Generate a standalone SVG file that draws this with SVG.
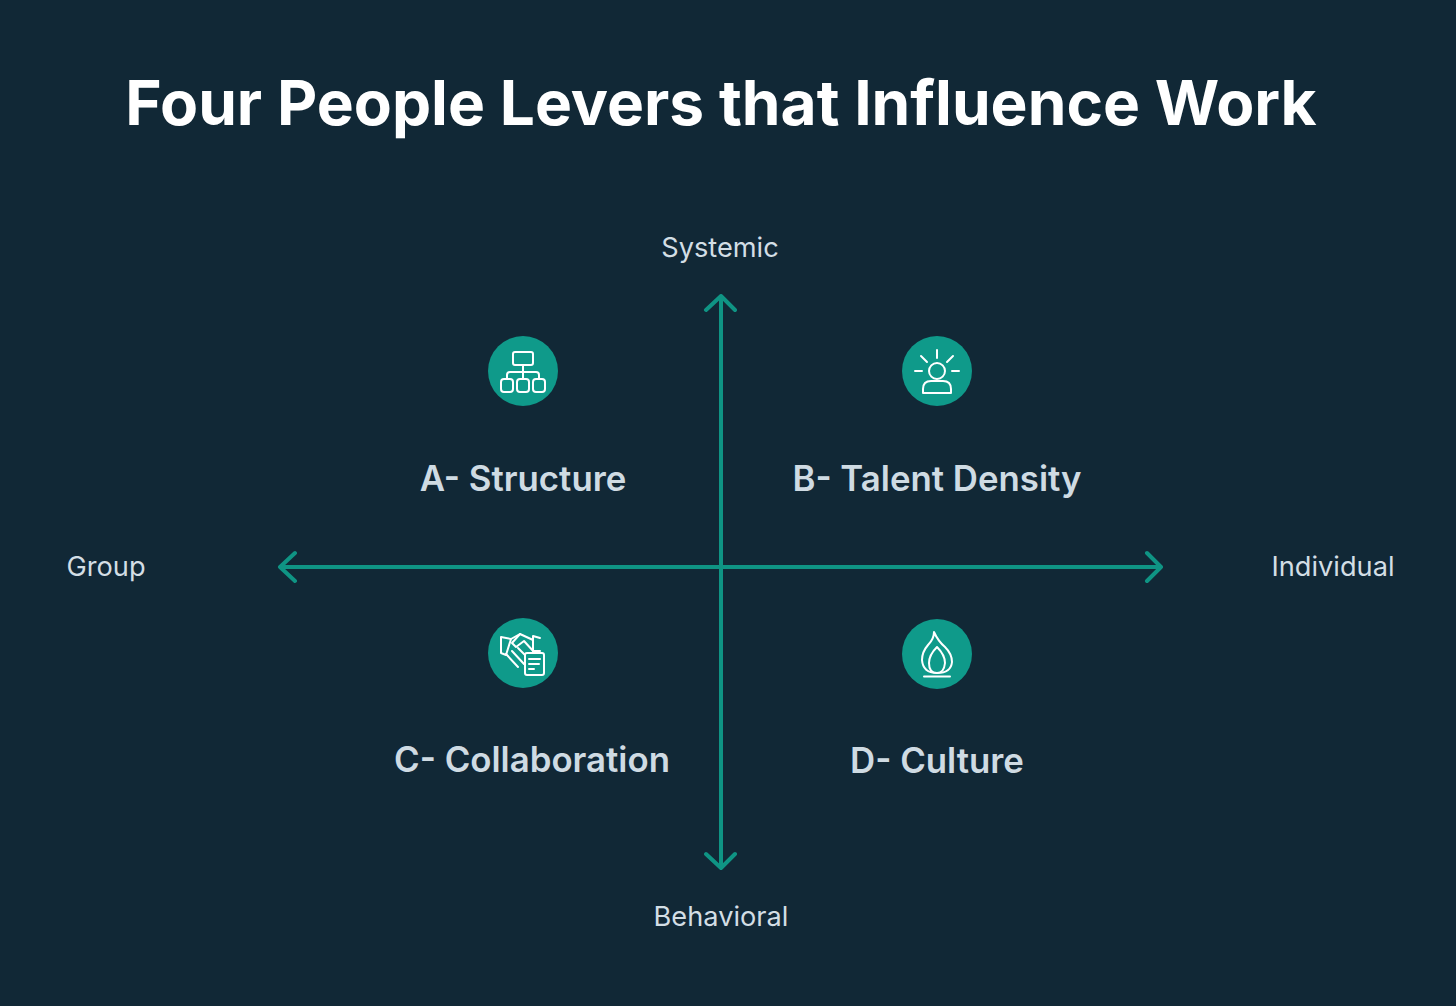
<svg xmlns="http://www.w3.org/2000/svg" width="1456" height="1006" viewBox="0 0 1456 1006">
<style>
text{font-family:Inter,"Liberation Sans",sans-serif;text-anchor:middle}
.title{font-size:62.2px;font-weight:700;fill:#fff}
.axis{font-size:27.2px;font-weight:400;fill:#d3dee5}
.lever{font-size:34.8px;font-weight:600;fill:#cfdbe3}
.disc{fill:#0f9a8a}
.ic{fill:none;stroke:#fff;stroke-width:2;stroke-linecap:round;stroke-linejoin:round}
.ax{fill:none;stroke:#0f9484;stroke-width:4;stroke-linecap:round;stroke-linejoin:round}
</style>
<rect width="1456" height="1006" fill="#112836"/>
<text class="title" x="721" y="124.500">Four People Levers that Influence Work</text>
<g id="connectors">
<path class="ax" d="M721 296V867M706 310L721 296L735 310M706 854L721 868L735 854"/>
<path class="ax" d="M280 567H1161M295 553L280 567L295 581M1147 553L1161 567L1147 581"/>
</g>
<g id="axis-systemic"><text class="axis" x="720" y="257">Systemic</text></g>
<g id="axis-behavioral"><text class="axis" x="721" y="925.500">Behavioral</text></g>
<g id="axis-group"><text class="axis" x="106" y="576">Group</text></g>
<g id="axis-individual"><text class="axis" x="1333" y="576">Individual</text></g>
<g id="node-a">
<circle class="disc" cx="523" cy="371" r="35"/>
<g class="ic">
<rect x="513" y="352" width="20" height="13" rx="2"/>
<path d="M523 365V379M507 379V375Q507 372 510 372H536Q539 372 539 375V379"/>
<rect x="501" y="379" width="12" height="13" rx="3"/><rect x="517" y="379" width="12" height="13" rx="3"/><rect x="533" y="379" width="12" height="13" rx="3"/>
</g>
<text class="lever" x="523" y="490.500">A- Structure</text>
</g>
<g id="node-b">
<circle class="disc" cx="937" cy="371" r="35"/>
<g class="ic">
<circle cx="937" cy="371" r="8"/>
<path d="M923 393V389Q923 381 931 381H943Q951 381 951 389V393Z"/>
<path d="M937 350V358M921 356L927 362M953 356L947 362M915 371H922M952 371H959"/>
</g>
<text class="lever" x="937" y="490.500">B- Talent Density</text>
</g>
<g id="node-c">
<circle class="disc" cx="523" cy="653" r="35"/>
<g class="ic">
<path d="M501 637L511 639L506 655L501 653Z"/>
<path d="M540 638L533 636V651H540"/>
<path d="M511 639L520 634L533 640"/>
<path d="M520 634L512 643L516 647L524 641L534 652"/>
<path d="M506 654L518 667M512 651L524 664M518 648L527 657"/>
<rect x="525" y="653" width="19" height="22" rx="2" fill="#0f9a8a"/>
<path d="M529 659H540M529 664H539M529 669H534"/>
</g>
<text class="lever" x="532" y="771.500">C- Collaboration</text>
</g>
<g id="node-d">
<circle class="disc" cx="937" cy="654" r="35"/>
<g class="ic">
<path d="M934 632Q938 641 945 647Q952 654 952 662Q951 673 937 673Q923 673 922 660Q922 652 928 645Q934 639 934 632Z"/>
<path d="M937 647Q945 655 945 663Q944 673 937 673Q929 673 929 663Q929 655 937 647Z"/>
<path d="M924 676.500H950"/>
</g>
<text class="lever" x="937" y="773">D- Culture</text>
</g>
</svg>
